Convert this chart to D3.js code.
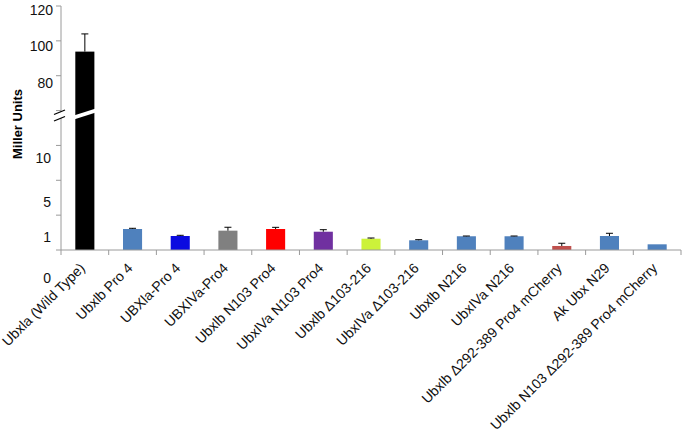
<!DOCTYPE html>
<html>
<head>
<meta charset="utf-8">
<script src="https://cdn.jsdelivr.net/npm/d3@7"></script>
<style>
  html, body { margin: 0; padding: 0; background: #fff; }
  svg { display: block; font-family: "Liberation Sans", Arial, sans-serif; }
</style>
</head>
<body>
<svg id="chart" width="685" height="433"></svg>
<script>
// ---------- DATA ----------
const categories = [
  "Ubxla (Wild Type)", "Ubxlb Pro 4", "UBXla-Pro 4", "UBXIVa-Pro4",
  "Ubxlb N103 Pro4", "UbxIVa N103 Pro4", "Ubxlb Δ103-216", "UbxIVa Δ103-216",
  "Ubxlb N216", "UbxIVa N216", "Ubxlb Δ292-389 Pro4 mCherry", "Ak Ubx N29",
  "Ubxlb N103 Δ292-389 Pro4 mCherry"
];
const values = [97, 2.40, 1.60, 2.21, 2.40, 2.09, 1.29, 1.11, 1.57, 1.57, 0.46, 1.60, 0.65];
const errors = [9.7, 0.08, 0.08, 0.39, 0.19, 0.23, 0.08, 0.07, 0.03, 0.03, 0.31, 0.31, 0];
const colors = ["#000000", "#4F81BD", "#0B0BE0", "#808080", "#FF0000", "#7030A0", "#CCF23A",
                "#4F81BD", "#4F81BD", "#4F81BD", "#C0504D", "#4F81BD", "#4F81BD"];
const lowerTickLabels = [0, 1, 5, 10];
const upperTickLabels = [80, 100, 120];
const yTitle = "Miller Units";

// ---------- LAYOUT ----------
const svg = d3.select("#chart");
const x0 = 61, x1 = 681, yBase = 250, yBreak = 110, yTop = 6;

const x = d3.scaleBand().domain(categories).range([x0, x1]).paddingInner(0.6).paddingOuter(0.3);
const yLow = d3.scaleLinear().domain([0, 16]).range([yBase, yBreak]);
const yHigh = d3.scaleLinear().domain([65, 122]).range([yBreak, yTop]);
const y = v => (v <= 16 ? yLow(v) : yHigh(v));
const slots = d3.scaleLinear().domain([0, 7]).range([yBase, yTop]);

const axisColor = "#9a9a9a";

// bars
svg.append("g").selectAll("rect").data(values).join("rect")
  .attr("x", (d, i) => x(categories[i]))
  .attr("width", x.bandwidth())
  .attr("y", d => y(d))
  .attr("height", d => yBase - y(d))
  .attr("fill", (d, i) => colors[i]);

// error bars (upper only)
const eb = svg.append("g").attr("stroke", "#000").attr("stroke-width", 1);
values.forEach((v, i) => {
  if (!errors[i]) return;
  const cx = x(categories[i]) + x.bandwidth() / 2;
  const yt = y(v + errors[i]);
  eb.append("line").attr("x1", cx).attr("x2", cx).attr("y1", y(v)).attr("y2", yt);
  eb.append("line").attr("x1", cx - 3.5).attr("x2", cx + 3.5).attr("y1", yt).attr("y2", yt);
});

// y axis line + ticks
svg.append("line").attr("x1", x0).attr("x2", x0).attr("y1", yTop).attr("y2", yBase)
  .attr("stroke", axisColor).attr("stroke-width", 1);
svg.append("g").selectAll("line").data(d3.range(0, 8)).join("line")
  .attr("x1", x0 - 5).attr("x2", x0)
  .attr("y1", d => slots(d)).attr("y2", d => slots(d))
  .attr("stroke", axisColor);

// x axis line + ticks
svg.append("line").attr("x1", x0).attr("x2", x1).attr("y1", yBase).attr("y2", yBase)
  .attr("stroke", axisColor);
svg.append("g").selectAll("line").data(d3.range(0, categories.length + 1)).join("line")
  .attr("x1", d => x0 + d * (x1 - x0) / categories.length)
  .attr("x2", d => x0 + d * (x1 - x0) / categories.length)
  .attr("y1", yBase).attr("y2", yBase + 5)
  .attr("stroke", axisColor);

// break marks
const brk = svg.append("g");
brk.append("polygon")
  .attr("points", `${x0 - 7},${yBreak + 5} ${x0 + 5},${yBreak} ${x0 + 5},${yBreak + 6} ${x0 - 7},${yBreak + 11}`)
  .attr("fill", "#fff");
brk.append("line").attr("x1", x0 - 7).attr("y1", yBreak + 4.5).attr("x2", x0 + 4).attr("y2", yBreak)
  .attr("stroke", "#000").attr("stroke-width", 1.3);
brk.append("line").attr("x1", x0 - 7).attr("y1", yBreak + 11).attr("x2", x0 + 4).attr("y2", yBreak + 6.5)
  .attr("stroke", "#000").attr("stroke-width", 1.3);
const bx = x(categories[0]);
brk.append("polygon")
  .attr("points", `${bx - 3},${yBreak + 6} ${bx + x.bandwidth() + 3},${yBreak - 2} ${bx + x.bandwidth() + 3},${yBreak + 2} ${bx - 3},${yBreak + 10}`)
  .attr("fill", "#fff");

// y tick labels
const lab = svg.append("g").attr("font-size", 14).attr("fill", "#111").attr("text-anchor", "end");
lab.selectAll("text.up").data(upperTickLabels).join("text").attr("class", "up")
  .attr("x", 53).attr("y", d => yHigh(d)).attr("dy", "0.35em").text(d => d);
lab.selectAll("text.lo").data(lowerTickLabels).join("text").attr("class", "lo")
  .attr("x", 51)
  .attr("y", d => (d === 0 ? yLow(d) + 28 : yLow(d) - 4))
  .attr("dy", "0.35em").text(d => d);

// y title
svg.append("text")
  .attr("transform", `translate(22,124) rotate(-90)`)
  .attr("text-anchor", "middle")
  .attr("font-size", 13).attr("font-weight", "bold").attr("fill", "#000")
  .text(yTitle);

// x labels
svg.append("g").selectAll("text").data(categories).join("text")
  .attr("transform", d => `translate(${x(d) + x.bandwidth() / 2 + 1},269) rotate(-45)`)
  .attr("text-anchor", "end")
  .attr("font-size", 14).attr("fill", "#111")
  .text(d => d);
</script>
</body>
</html>
